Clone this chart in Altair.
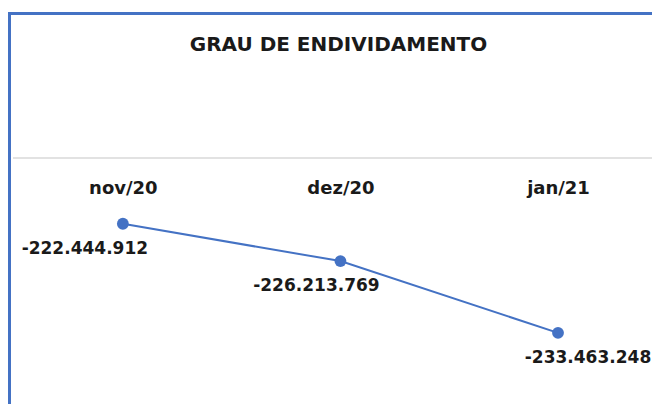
import altair as alt
import pandas as pd

# ---- data ----
months = ["nov/20", "dez/20", "jan/21"]
values = [-222444912, -226213769, -233463248]
labels = [f"{v:,}".replace(",", ".") for v in values]
chart_title = "GRAU DE ENDIVIDAMENTO"

df = pd.DataFrame({"mes": months, "valor": values, "rotulo": labels})

# ---- style ----
BLUE = "#4472C4"
TEXT = "#1a1a1a"
FONT = "DejaVu Sans"
W, H = 644, 198
PAD_TOP, PAD_BOTTOM = 150, 48
label_dx = {"nov/20": -38, "dez/20": -24, "jan/21": 30}

x = alt.X(
    "mes:O",
    sort=months,
    scale=alt.Scale(type="point", padding=0.48, align=0.55),
    axis=alt.Axis(
        orient="bottom",
        offset=-H,
        title=None,
        labelAngle=0,
        domain=False,
        ticks=False,
        tickSize=0,
        grid=False,
        labelFont=FONT,
        labelFontWeight="bold",
        labelFontSize=18,
        labelColor=TEXT,
        labelPadding=21,
    ),
)
y = alt.Y(
    "valor:Q",
    scale=alt.Scale(domain=[-235.8e6, -215.8e6], zero=False, nice=False),
    axis=None,
)

base = alt.Chart(df)

line = base.mark_line(color=BLUE, strokeWidth=2).encode(x=x, y=y)
points = base.mark_circle(color=BLUE, size=140, opacity=1).encode(x=x, y=y)

text_layers = []
for m in months:
    text_layers.append(
        base.transform_filter(alt.datum.mes == m)
        .mark_text(
            font=FONT,
            fontWeight="bold",
            fontSize=17,
            color=TEXT,
            dx=label_dx[m],
            dy=25,
            baseline="middle",
            align="center",
        )
        .encode(x=x, y=y, text="rotulo:N")
    )

dummy = alt.Chart(pd.DataFrame({"k": [0]}))
axis_line = dummy.mark_rule(color="#D9D9D9", strokeWidth=1.5).encode(
    x=alt.value(5), x2=alt.value(W), y=alt.value(0)
)
frame_top = dummy.mark_rule(color=BLUE, strokeWidth=3).encode(
    x=alt.value(0), x2=alt.value(W), y=alt.value(-144.5)
)
frame_left = dummy.mark_rule(color=BLUE, strokeWidth=3).encode(
    x=alt.value(1.5), y=alt.value(-146), y2=alt.value(H + PAD_BOTTOM)
)
title = dummy.mark_text(
    text=chart_title,
    font=FONT,
    fontSize=20,
    fontWeight="bold",
    color=TEXT,
    align="center",
    baseline="middle",
).encode(x=alt.value(330.5), y=alt.value(-113.5))

chart = (
    alt.layer(frame_top, frame_left, axis_line, title, line, points, *text_layers)
    .properties(
        width=W,
        height=H,
        autosize=alt.AutoSizeParams(type="none"),
        padding={"left": 0, "top": PAD_TOP, "right": 0, "bottom": PAD_BOTTOM},
        background="white",
    )
    .configure_view(stroke=None)
)

chart.save("out.html", embed_options={"renderer": "svg", "actions": False})
